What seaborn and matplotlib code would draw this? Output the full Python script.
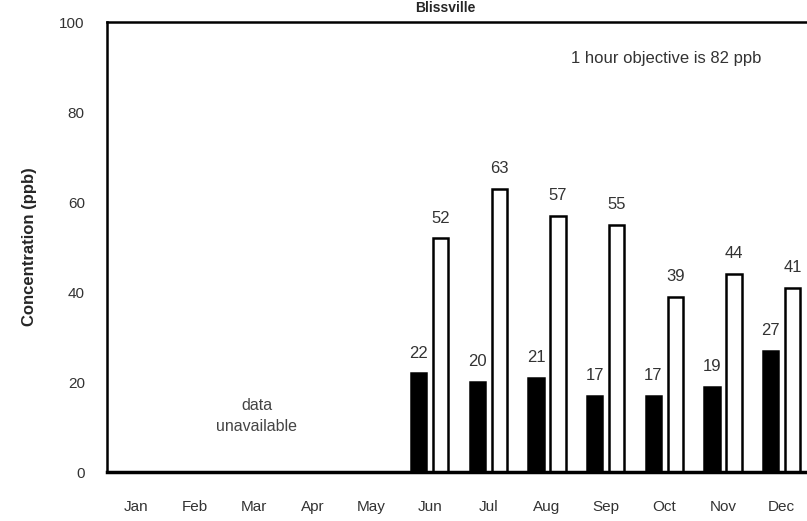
import numpy as np
import pandas as pd
import matplotlib
matplotlib.use("Agg")
import matplotlib.pyplot as plt
import seaborn as sns

# ── data ───────────────────────────────────────────────────────────────────────
MONTHS = ["Jan", "Feb", "Mar", "Apr", "May", "Jun",
          "Jul", "Aug", "Sep", "Oct", "Nov", "Dec"]
MEAN_PPB = [np.nan, np.nan, np.nan, np.nan, np.nan, 22, 20, 21, 17, 17, 19, 27]
MAX_PPB = [np.nan, np.nan, np.nan, np.nan, np.nan, 52, 63, 57, 55, 39, 44, 41]
SERIES = ["mean", "max"]

df = pd.DataFrame({
    "month": MONTHS * 2,
    "value": MEAN_PPB + MAX_PPB,
    "series": [SERIES[0]] * len(MONTHS) + [SERIES[1]] * len(MONTHS),
})

# ── style ──────────────────────────────────────────────────────────────────────
sns.set_style("white")
plt.rcParams["font.family"] = ["Liberation Sans", "DejaVu Sans"]

fig = plt.figure(figsize=(8.07, 5.21), dpi=100)
ax = fig.add_axes([107 / 807, 49 / 521, 704 / 807, 450 / 521])

sns.barplot(
    data=df, x="month", y="value", hue="series", order=MONTHS,
    hue_order=SERIES, palette={"mean": "black", "max": "white"},
    edgecolor="black", linewidth=1.8, width=0.75, gap=0.3,
    legend=False, ax=ax,
)

for cont in ax.containers:
    ax.bar_label(cont, fmt="%.0f", padding=9, fontsize=12, color="#333333")

ax.set_ylim(0, 100)
ax.set_yticks(range(0, 101, 20))
ax.set_xlim(-0.5, 11.5)
ax.set_xlabel("")
ax.set_ylabel("Concentration (ppb)", fontsize=12, fontweight="bold", labelpad=16)
ax.tick_params(axis="y", direction="in", length=4, pad=16, labelsize=11,
               labelcolor="#333333")
ax.tick_params(axis="x", direction="out", length=3, pad=17, labelsize=11,
               labelcolor="#333333")

for side in ["left", "bottom", "top", "right"]:
    ax.spines[side].set_visible(True)
    ax.spines[side].set_color("black")
ax.spines["bottom"].set_linewidth(2.5)
ax.spines["left"].set_linewidth(1.8)
ax.spines["top"].set_linewidth(1.8)

ax.text(2.05, 12.5, "data\nunavailable", ha="center", va="center", fontsize=11.5,
        color="#444444", linespacing=1.5)
ax.text(0.93, 0.92, "1 hour objective is 82 ppb", transform=ax.transAxes,
        ha="right", va="center", fontsize=12, color="#333333")

fig.text(445 / 807, 0.999, "Blissville", ha="center", va="top",
         fontsize=10, fontweight="bold")

fig.savefig("out.png", dpi=100)
